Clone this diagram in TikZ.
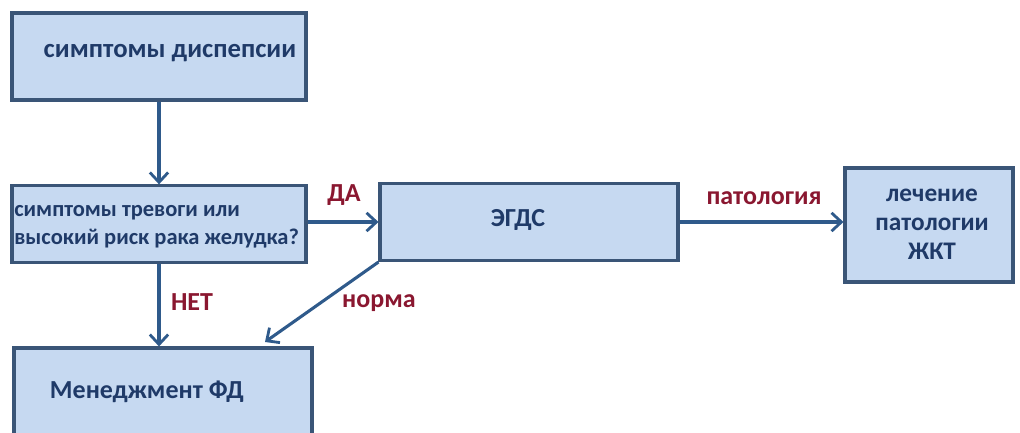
\documentclass[tikz,border=0pt]{standalone}
\usepackage{fontspec}
\setmainfont{Carlito}
\usepackage{xcolor}
\usetikzlibrary{arrows.meta}

\definecolor{boxfill}{HTML}{C6D9F1}
\definecolor{boxline}{HTML}{3A5577}
\definecolor{arrowcol}{HTML}{2F5A8B}
\definecolor{boxtext}{HTML}{1F3A68}
\definecolor{labelred}{HTML}{8A1730}

\tikzset{
    block/.style={draw=boxline, fill=boxfill, line width=2.2pt, inner sep=0pt},
    boxlabel/.style={text=boxtext, font=\fontsize{18.5}{21}\selectfont\bfseries, inner sep=0pt},
    answer/.style={text=labelred, font=\fontsize{18.5}{21}\selectfont\bfseries, inner sep=0pt},
    flow/.style={draw=arrowcol, line width=2.2pt, -{Straight Barb[length=7pt, width=13pt, line width=2pt]}}
}

\begin{document}
\begin{tikzpicture}

\useasboundingbox (0,0) rectangle (25.5,10.8);

% Boxes
\node[block, minimum width=7.35cm, minimum height=2.175cm] (dysp) at (3.975,9.3875) {};
\node[block, minimum width=7.35cm, minimum height=1.925cm] (alarm) at (3.975,5.19) {};
\node[block, minimum width=7.45cm, minimum height=1.925cm] (egds) at (13.225,5.25) {};
\node[block, minimum width=4.2cm, minimum height=2.85cm] (treat) at (23.225,5.175) {};
\node[block, minimum width=7.45cm, minimum height=2.8cm] (mgmt) at (4.075,0.7) {};

% Box texts
\node[boxlabel, font=\fontsize{19}{22}\selectfont\bfseries] (tdysp) at (4.25,9.475) {симптомы диспепсии};
\node[boxlabel, font=\fontsize{16}{20}\selectfont\bfseries, anchor=west, align=left] (talarm) at (0.35,5.14) {симптомы тревоги или\\высокий риск рака желудка?};
\node[boxlabel] (tegds) at (12.95,5.3) {ЭГДС};
\node[boxlabel, align=center, font=\fontsize{18}{20.5}\selectfont\bfseries] (ttreat) at (23.3,5.2) {лечение\\патологии\\ЖКТ};
\node[boxlabel] (tmgmt) at (3.675,1.0) {Менеджмент ФД};

% Arrows
\coordinate (normEnd) at (6.625,2.25);
\draw[flow] (dysp.south) -- (alarm.north);
\draw[flow] (alarm.east |- egds.west) -- (egds.west);
\draw[flow] (alarm.south) -- (alarm.south |- mgmt.north);
\draw[flow] (egds.south west) -- (normEnd);
\draw[flow] (egds.east) -- (egds.east -| treat.west);

% Answers
\node[answer] (yes) at (8.6,5.925) {ДА};
\node[answer] (no) at (4.8,3.25) {НЕТ};
\node[answer] (norm) at (9.475,3.225) {норма};
\node[answer] (path) at (19.1,5.85) {патология};

\end{tikzpicture}
\end{document}
